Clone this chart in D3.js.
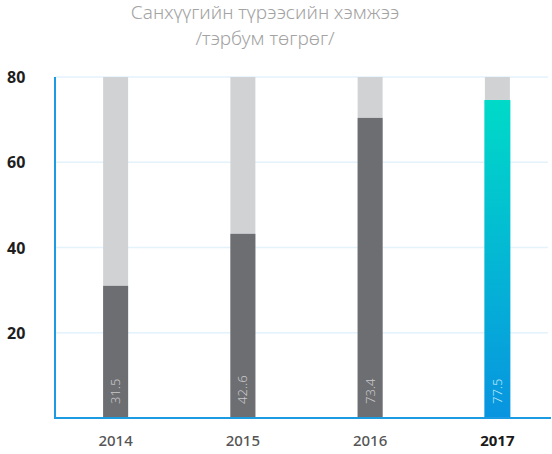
<!DOCTYPE html>
<html>
<head>
<meta charset="utf-8">
<script src="https://cdn.jsdelivr.net/npm/d3@7"></script>
<style>
  html, body { margin: 0; padding: 0; background: #ffffff; }
  svg { display: block; }
</style>
</head>
<body>
<svg id="chart" width="552" height="454"></svg>
<script>
// ---- data ----
const titleLines = ["Санхүүгийн түрээсийн хэмжээ", "/тэрбум төгрөг/"];
const years = ["2014", "2015", "2016", "2017"];
const values = [31.0, 43.2, 70.4, 74.6];
const valueLabels = ["31.5", "42..6", "73.4", "77.5"];
const yTicks = [20, 40, 60, 80];
const yMax = 80;

// ---- layout ----
const svg = d3.select("#chart");
const plotLeft = 55, plotRight = 548, plotTop = 77, plotBottom = 418;

const x = d3.scalePoint().domain(years).range([52, 561]).padding(0.5);
const y = d3.scaleLinear().domain([0, yMax]).range([plotBottom, plotTop]);
const barW = 25;

// gradient
const defs = svg.append("defs");
const grad = defs.append("linearGradient")
  .attr("id", "hl").attr("x1", 0).attr("y1", 0).attr("x2", 0).attr("y2", 1);
grad.append("stop").attr("offset", "0%").attr("stop-color", "#00dac8");
grad.append("stop").attr("offset", "100%").attr("stop-color", "#0894e0");

// title
svg.append("g").selectAll("text").data(titleLines).join("text")
  .attr("x", 265)
  .attr("y", (d, i) => 19 + i * 26)
  .attr("text-anchor", "middle")
  .attr("font-family", "'Noto Sans', sans-serif")
  .attr("font-size", 19)
  .attr("font-weight", 300)
  .attr("fill", "#a3a3a3")
  .text(d => d);

// gridlines
svg.append("g").selectAll("line").data([0].concat(yTicks)).join("line")
  .attr("x1", plotLeft).attr("x2", plotRight)
  .attr("y1", d => y(d)).attr("y2", d => y(d))
  .attr("stroke", "#e4f2fc").attr("stroke-width", 1.5);

// background bars
svg.append("g").selectAll("rect").data(years).join("rect")
  .attr("x", d => x(d) - barW / 2)
  .attr("width", barW)
  .attr("y", y(yMax))
  .attr("height", y(0) - y(yMax))
  .attr("fill", "#d1d2d4");

// value bars
svg.append("g").selectAll("rect").data(years).join("rect")
  .attr("x", (d, i) => x(d) - barW / 2 - (i === 3 ? 0.5 : 0))
  .attr("width", (d, i) => barW + (i === 3 ? 1 : 0))
  .attr("y", (d, i) => y(values[i]))
  .attr("height", (d, i) => y(0) - y(values[i]))
  .attr("fill", (d, i) => i === 3 ? "url(#hl)" : "#6d6e71");

// value labels (rotated)
svg.append("g").selectAll("text").data(years).join("text")
  .attr("transform", d => `translate(${x(d) + 4.5},${plotBottom - 14}) rotate(-90)`)
  .attr("text-anchor", "start")
  .attr("font-family", "'Noto Sans', sans-serif")
  .attr("font-size", 13)
  .attr("font-weight", 300)
  .attr("fill", (d, i) => i === 3 ? "#bfe6f7" : "#c9c9cc")
  .text((d, i) => valueLabels[i]);

// axes lines
svg.append("line")
  .attr("x1", plotLeft).attr("x2", plotLeft)
  .attr("y1", plotTop).attr("y2", plotBottom + 1)
  .attr("stroke", "#1b9be2").attr("stroke-width", 2);
svg.append("line")
  .attr("x1", plotLeft - 1).attr("x2", plotRight + 3)
  .attr("y1", plotBottom).attr("y2", plotBottom)
  .attr("stroke", "#1b9be2").attr("stroke-width", 2);

// y tick labels
svg.append("g").selectAll("text").data(yTicks).join("text")
  .attr("x", 7)
  .attr("y", d => y(d) + 6)
  .attr("font-family", "'Noto Sans', sans-serif")
  .attr("font-size", 16)
  .attr("font-weight", 700)
  .attr("fill", "#1e1e1e")
  .text(d => d);

// x labels
svg.append("g").selectAll("text").data(years).join("text")
  .attr("x", d => x(d))
  .attr("y", 446)
  .attr("text-anchor", "middle")
  .attr("font-family", "'Noto Sans', sans-serif")
  .attr("font-size", 15)
  .attr("font-weight", (d, i) => i === 3 ? 700 : 500)
  .attr("fill", (d, i) => i === 3 ? "#1a1a1a" : "#555555")
  .text(d => d);
</script>
</body>
</html>
